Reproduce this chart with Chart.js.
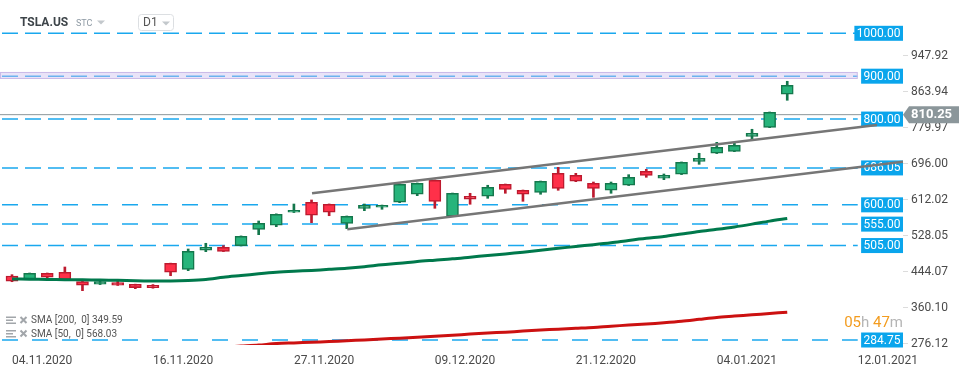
<!DOCTYPE html>
<html>
<head>
<meta charset="utf-8">
<script src="https://cdn.jsdelivr.net/npm/chart.js@4.4.1/dist/chart.umd.min.js"></script>
<style>
  body { margin: 0; background: #fff; }
  canvas { display: block; }
</style>
</head>
<body>
<canvas id="chart" width="971" height="367"></canvas>
<script>
// trading days (future slots at the end are calendar days)
const dates = [
  '04.11.2020','05.11.2020','06.11.2020','09.11.2020','10.11.2020','11.11.2020','12.11.2020','13.11.2020',
  '16.11.2020','17.11.2020','18.11.2020','19.11.2020','20.11.2020','23.11.2020','24.11.2020','25.11.2020',
  '27.11.2020','30.11.2020','01.12.2020','02.12.2020','03.12.2020','04.12.2020','07.12.2020','08.12.2020',
  '09.12.2020','10.12.2020','11.12.2020','14.12.2020','15.12.2020','16.12.2020','17.12.2020','18.12.2020',
  '21.12.2020','22.12.2020','23.12.2020','24.12.2020','28.12.2020','29.12.2020','30.12.2020','31.12.2020',
  '04.01.2021','05.01.2021','06.01.2021','07.01.2021','08.01.2021','09.01.2021','10.01.2021','11.01.2021',
  '12.01.2021'
];
const xTickIdx = [0, 8, 16, 24, 32, 40, 48];

const opens  = [434.0,426.3,440.4,442.7,420.8,414.7,418.4,414.7,412.4,463.6,449.6,494.0,501.0,504.7,542.9,552.3,
                582.6,605.9,601.3,556.9,591.9,594.3,605.9,624.6,657.2,573.3,619.9,619.9,647.9,633.9,629.2,673.5,
                668.8,650.2,633.9,645.6,678.2,661.9,671.2,701.5,720.2,724.8,759.8,780.8,857.8];
const highs  = [437.1,441.0,441.0,455.0,421.5,421.5,424.7,415.0,414.0,464.0,497.0,510.3,504.7,527.5,562.3,579.0,
                601.9,611.3,602.0,574.0,601.9,599.5,648.5,651.0,658.0,627.5,626.9,645.6,648.5,634.5,655.5,687.5,
                673.5,653.2,653.2,670.3,682.9,671.9,700.0,720.2,745.8,743.5,776.2,816.5,888.1];
const lows   = [420.7,425.5,427.8,425.0,399.8,414.0,412.0,404.4,405.5,434.7,446.4,490.7,491.0,504.0,530.4,549.0,
                582.0,558.4,574.6,544.4,586.3,589.6,605.0,621.3,591.9,572.5,601.3,615.2,626.9,608.2,624.6,633.9,
                654.0,617.5,626.9,645.0,664.2,658.6,670.5,694.5,719.5,724.0,752.8,780.0,843.8];
const closes = [421.7,440.4,431.0,426.3,412.4,420.8,412.4,406.8,406.8,442.7,491.6,501.0,491.6,526.6,556.9,577.9,
                587.3,575.6,582.6,573.3,598.9,598.9,647.9,650.2,608.2,626.9,612.9,640.9,636.2,624.6,654.9,638.5,
                654.9,638.5,650.2,664.2,668.8,668.8,699.2,708.5,734.2,738.8,766.8,815.8,878.8];

const sma50 = [427,426.5,426,425.5,425,424.7,424,423,422.3,422.3,423.5,426,431,435,439,442.5,
               445,447,449.5,452,455.5,460,463.5,468,471,474,478,482,485.5,489.5,494,498.5,
               503,507,511.5,517,522,526,532,538,543,548.5,555,562,568.03];
const sma200Start = 10;
const sma200 = [262,265,268,270.5,273,276.5,278,279.5,281,283,285,287,289,291,293.5,296,298.5,301,303,305.5,
                308,310,312,314,317,319.5,322,325,328.5,333,337.5,340.5,343.5,346.5,349.59];

const levels = [1000, 900, 800, 686.05, 600, 555, 505, 284.75];
const wideGapLevels = [600, 555, 284.75];
const lastPrice = 810.25;
const zone900 = [894, 910];
const upperTrend = [[17.03, 626.9], [49.09, 786.2]];
const lowerTrend = [[19.03, 542.9], [50.57, 700.6]];
const yTicks = [276.12, 360.10, 444.07, 528.05, 612.02, 696.00, 779.97, 863.94, 947.92];

const xMin = -0.681, xMax = 50.57, levelEnd = 48;
const UP = '#27b47b', UP_EDGE = '#14774c', DOWN = '#ff3049', DOWN_EDGE = '#bd1a2e';

Chart.defaults.font.family = 'Roboto';
Chart.defaults.font.size = 12;
Chart.defaults.color = '#4a4a4a';

const isUp = opens.map((o, i) => closes[i] >= o);
const datasets = [];
levels.forEach(v => datasets.push({
  type: 'line',
  data: [{x: xMin, y: v}, {x: levelEnd, y: v}],
  borderColor: '#1aa8ee', borderWidth: 1.5,
  borderDash: wideGapLevels.includes(v) ? [16, 14] : [16, 7], borderDashOffset: -2,
  pointRadius: 0, order: 10
}));
datasets.push({
  type: 'line', data: [{x: xMin, y: lastPrice}, {x: xMax, y: lastPrice}],
  borderColor: '#8b969a', borderWidth: 1, pointRadius: 0, order: 10
});
datasets.push({
  type: 'bar',
  data: opens.map((o, i) => ({x: i, y: [lows[i], highs[i]]})),
  backgroundColor: isUp.map(u => u ? UP_EDGE : DOWN_EDGE),
  barThickness: 2, grouped: false, order: 6
});
const bodyIndex = datasets.length;
datasets.push({
  type: 'bar',
  data: opens.map((o, i) => ({x: i, y: [o, closes[i]]})),
  backgroundColor: isUp.map(u => u ? UP : DOWN),
  borderColor: isUp.map(u => u ? UP_EDGE : DOWN_EDGE),
  borderWidth: 1.5, borderSkipped: false,
  barThickness: 12, grouped: false, order: 5
});
datasets.push({
  type: 'line', data: sma50.map((v, i) => ({x: i, y: v})),
  borderColor: '#00794c', borderWidth: 3, tension: 0.3, pointRadius: 0, order: 2
});
datasets.push({
  type: 'line', data: sma200.map((v, i) => ({x: i + sma200Start, y: v})),
  borderColor: '#cc1111', borderWidth: 3, tension: 0.3, pointRadius: 0, order: 2
});
[upperTrend, lowerTrend].forEach(t => datasets.push({
  type: 'line', data: t.map(p => ({x: p[0], y: p[1]})),
  borderColor: '#767676', borderWidth: 2.5, pointRadius: 0, order: 1
}));

const levelBoxes = {
  id: 'levelBoxes',
  afterDatasetDraw(chart, args) {
    if (args.index !== bodyIndex) return;
    const {ctx, chartArea, scales: {x, y}} = chart;
    ctx.save();
    const zTop = y.getPixelForValue(zone900[1]), zBot = y.getPixelForValue(zone900[0]);
    const zRight = x.getPixelForValue(levelEnd);
    ctx.fillStyle = 'rgba(206,192,240,0.45)';
    ctx.fillRect(chartArea.left, zTop, zRight - chartArea.left, zBot - zTop);
    ctx.strokeStyle = '#cbbbe8';
    ctx.lineWidth = 1;
    ctx.strokeRect(chartArea.left + 0.5, Math.round(zTop) + 0.5, zRight - chartArea.left - 1, Math.round(zBot - zTop) - 1);

    ctx.font = '12px Roboto';
    ctx.textAlign = 'right';
    ctx.textBaseline = 'middle';
    levels.forEach(v => {
      const py = y.getPixelForValue(v);
      const t = v.toFixed(2);
      const w = ctx.measureText(t).width + 5;
      ctx.fillStyle = '#0aa5ec';
      ctx.fillRect(chartArea.right - w, py - 7.5, w, 15);
      ctx.fillStyle = '#fff';
      ctx.fillText(t, chartArea.right - 2.5, py + 0.5);
    });
    ctx.restore();
  }
};

const overlay = {
  id: 'overlay',
  afterDraw(chart) {
    const {ctx, chartArea, scales: {y}} = chart;
    ctx.save();
    // header
    ctx.textBaseline = 'middle';
    ctx.textAlign = 'left';
    ctx.fillStyle = '#3d4449';
    ctx.font = 'bold 12px Roboto';
    ctx.fillText('TSLA.US', 20, 23);
    ctx.fillStyle = '#8d99a3';
    ctx.font = '9px Roboto';
    ctx.fillText('STC', 76, 24);
    const tri = (x0, y0) => {
      ctx.fillStyle = '#c3c8cc';
      ctx.beginPath(); ctx.moveTo(x0, y0); ctx.lineTo(x0 + 8, y0); ctx.lineTo(x0 + 4, y0 + 4); ctx.closePath(); ctx.fill();
    };
    tri(97, 20.5);
    ctx.strokeStyle = '#dcdfe2';
    ctx.lineWidth = 1;
    ctx.beginPath(); ctx.roundRect(138.5, 14.5, 35, 16, 3); ctx.stroke();
    ctx.fillStyle = '#555';
    ctx.font = '12px Roboto';
    ctx.fillText('D1', 143, 23);
    tri(162, 21.5);

    // last price tag
    const py = y.getPixelForValue(lastPrice);
    const r = chartArea.right;
    ctx.fillStyle = '#8b969a';
    ctx.beginPath();
    ctx.moveTo(r, py); ctx.lineTo(r + 6, py - 8.5); ctx.lineTo(r + 56, py - 8.5);
    ctx.lineTo(r + 56, py + 8.5); ctx.lineTo(r + 6, py + 8.5); ctx.closePath(); ctx.fill();
    ctx.fillStyle = '#fff';
    ctx.font = 'bold 13px Roboto';
    ctx.fillText(lastPrice.toFixed(2), r + 8, py + 0.5);

    // indicator legend
    const rows = [['SMA [200,  0] 349.59', 320.5], ['SMA [50,  0] 568.03', 334]];
    rows.forEach(([t, ry]) => {
      ctx.fillStyle = '#a2a6aa';
      ctx.fillRect(6, ry - 4, 10, 1.5);
      ctx.fillRect(6, ry - 1, 7, 1.5);
      ctx.fillRect(6, ry + 2, 10, 1.5);
      ctx.strokeStyle = '#a2a6aa';
      ctx.lineWidth = 2;
      ctx.beginPath();
      ctx.moveTo(20.5, ry - 3.5); ctx.lineTo(26.5, ry + 2.5);
      ctx.moveTo(26.5, ry - 3.5); ctx.lineTo(20.5, ry + 2.5);
      ctx.stroke();
      ctx.fillStyle = '#555';
      ctx.font = '10px Roboto';
      ctx.fillText(t, 31, ry);
    });

    // countdown
    ctx.font = '15px Roboto';
    ctx.textBaseline = 'alphabetic';
    const parts = [['05', '#f39c1f'], ['h ', '#b5b5b5'], ['47', '#f39c1f'], ['m', '#b5b5b5']];
    let cx = r - parts.reduce((s, p) => s + ctx.measureText(p[0]).width, 0);
    parts.forEach(([t, c]) => { ctx.fillStyle = c; ctx.fillText(t, cx, 327); cx += ctx.measureText(t).width; });
    ctx.restore();
  }
};

new Chart(document.getElementById('chart'), {
  type: 'bar',
  data: { datasets },
  options: {
    responsive: false,
    animation: false,
    events: [],
    layout: { padding: 0, autoPadding: false },
    plugins: { legend: { display: false }, tooltip: { enabled: false } },
    scales: {
      x: {
        type: 'linear', min: xMin, max: xMax, offset: false,
        grid: { display: false }, border: { display: false },
        afterBuildTicks: s => { s.ticks = xTickIdx.map(v => ({value: v})); },
        afterFit: s => { s.height = 22; s.paddingLeft = 0; s.paddingRight = 0; },
        ticks: { align: 'start', autoSkip: false, maxRotation: 0, padding: 1, color: '#4a4a4a',
                 callback: v => dates[v] }
      },
      y: {
        position: 'right', min: 273.1, max: 1077.66,
        grid: { drawOnChartArea: false, color: '#dcdcdc', tickLength: 5 }, border: { display: false },
        afterBuildTicks: s => { s.ticks = yTicks.map(v => ({value: v})); },
        afterFit: s => { s.width = 68; s.paddingTop = 0; s.paddingBottom = 0; },
        ticks: { padding: 3, color: '#4a4a4a', callback: v => v.toFixed(2) }
      }
    }
  },
  plugins: [levelBoxes, overlay]
});
</script>
</body>
</html>
